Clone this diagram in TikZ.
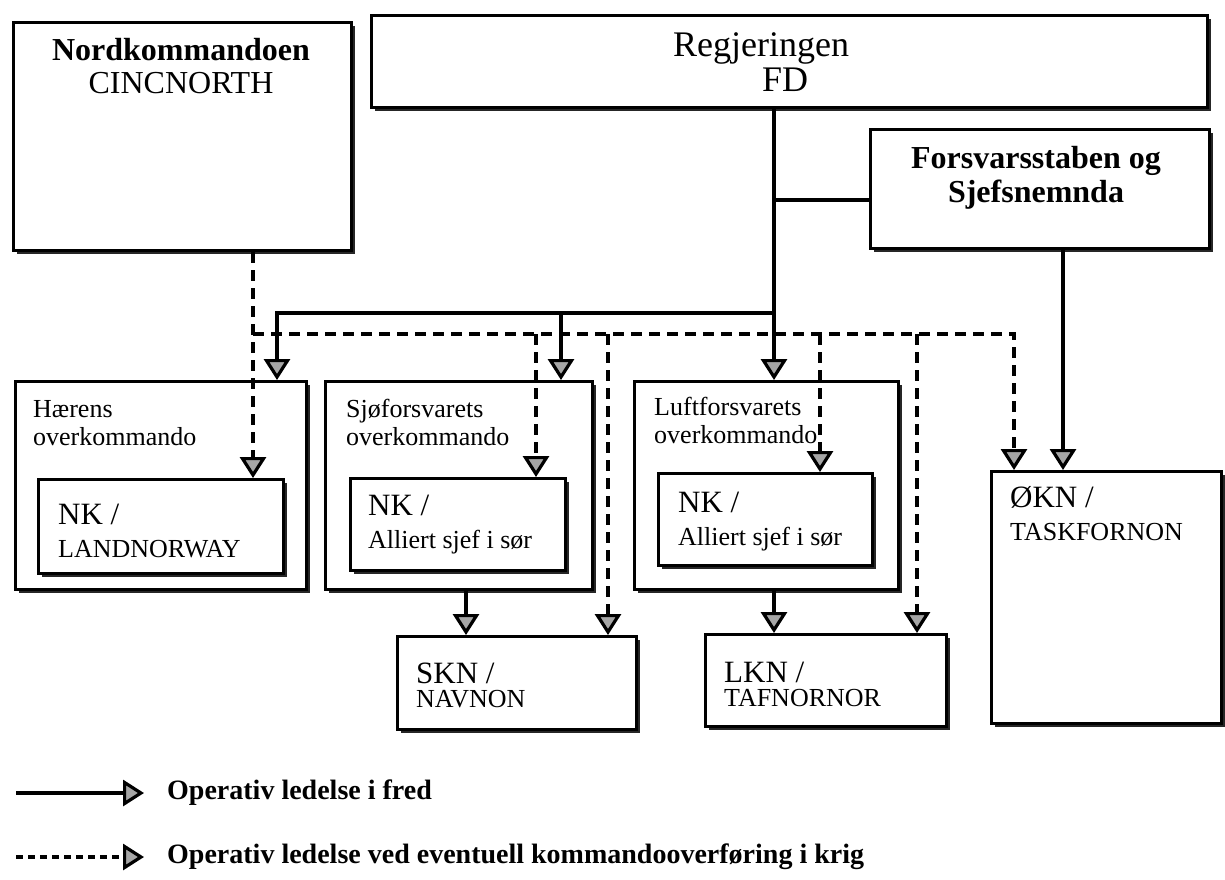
\documentclass[tikz,border=0pt]{standalone}
\usepackage{fontspec}
\setmainfont{Liberation Serif}
\usetikzlibrary{arrows.meta,shadows}

\begin{document}
\begin{tikzpicture}[x=1pt, y=-1pt,
    box/.style={draw, line width=3pt, fill=white, inner sep=0pt, anchor=north west,
        drop shadow={shadow xshift=3pt, shadow yshift=-3pt, fill=black, opacity=0.85}},
    txt/.style={anchor=base west, inner sep=0pt, font=\fontsize{26}{30}\selectfont},
    big/.style={anchor=base west, inner sep=0pt, font=\fontsize{31}{36}\selectfont},
    head/.style={anchor=base, inner sep=0pt, font=\fontsize{32}{38}\selectfont\bfseries},
    top/.style={anchor=base, inner sep=0pt, font=\fontsize{36}{40}\selectfont},
    note/.style={anchor=west, inner sep=0pt, font=\fontsize{28}{32}\selectfont\bfseries},
    peace/.style={line width=3.2pt, -{Triangle[width=26pt,length=21pt,fill=gray!70]}},
    war/.style={peace, dash pattern=on 11pt off 7pt},
]
\useasboundingbox (0,0) rectangle (1225,879);

% top level
\node[box, minimum width=338pt, minimum height=228pt] (nord) at (12,21) {};
\node[box, minimum width=836pt, minimum height=92pt] (reg) at (370,14) {};
\node[box, minimum width=339pt, minimum height=119pt] (fst) at (869,128) {};

\node[head] (nord1) at (181,60) {Nordkommandoen};
\node[top, font=\fontsize{32}{38}\selectfont] (nord2) at (181,93) {CINCNORTH};
\node[top] (reg1) at (761,56) {Regjeringen};
\node[top] (reg2) at (785,91) {FD};
\node[head] (fst1) at (1036,168) {Forsvarsstaben og};
\node[head] (fst2) at (1036,202) {Sjefsnemnda};

% overkommandoene
\node[box, minimum width=291pt, minimum height=208pt] (haer) at (14,380) {};
\node[box, minimum width=267pt, minimum height=208pt] (sjo) at (324,380) {};
\node[box, minimum width=264pt, minimum height=208pt] (luft) at (633,380) {};
\node[box, minimum width=230pt, minimum height=252pt] (okn) at (990,470) {};

\node[box, minimum width=245pt, minimum height=94pt] (nkl) at (37,478) {};
\node[box, minimum width=215pt, minimum height=92pt] (nks) at (349,477) {};
\node[box, minimum width=214pt, minimum height=92pt] (nkf) at (657,472) {};
\node[box, minimum width=239pt, minimum height=93pt] (skn) at (396,635) {};
\node[box, minimum width=241pt, minimum height=92pt] (lkn) at (704,633) {};

\node[txt] (haer1) at (33,417) {Hærens};
\node[txt] (haer2) at (33,445) {overkommando};
\node[txt] (sjo1) at (346,417) {Sjøforsvarets};
\node[txt] (sjo2) at (346,445) {overkommando};
\node[txt] (luft1) at (654,415) {Luftforsvarets};
\node[txt] (luft2) at (654,443) {overkommando};

\node[big] (nkl1) at (58,524) {NK /};
\node[txt] (nkl2) at (58,557) {LANDNORWAY};
\node[big] (nks1) at (368,515) {NK /};
\node[txt] (nks2) at (368,548) {Alliert sjef i sør};
\node[big] (nkf1) at (678,512) {NK /};
\node[txt] (nkf2) at (678,545) {Alliert sjef i sør};
\node[big] (skn1) at (416,683) {SKN /};
\node[txt] (skn2) at (416,707) {NAVNON};
\node[big] (lkn1) at (724,682) {LKN /};
\node[txt] (lkn2) at (724,706) {TAFNORNOR};
\node[big] (okn1) at (1010,507) {ØKN /};
\node[txt] (okn2) at (1010,540) {TASKFORNON};

% bus lines
\coordinate (sbus) at (774,313);
\coordinate (dbus) at (253,334);
\coordinate (xs1) at (277,0);
\coordinate (xs2) at (561,0);
\coordinate (xs3) at (466,0);
\coordinate (xs4) at (1063,0);
\coordinate (xd1) at (536,0);
\coordinate (xd2) at (608,0);
\coordinate (xd3) at (820,0);
\coordinate (xd4) at (917,0);
\coordinate (xd5) at (1014,0);

% fred
\draw[peace] (reg.south -| sbus) -- (sbus |- luft.north);
\draw[line width=3.2pt] (sbus |- fst.west) ++(0,11) -- ([yshift=-11pt]fst.west);
\draw[peace] (sbus) -- (sbus -| xs1) -- (xs1 |- haer.north);
\draw[peace] (sbus -| xs2) -- (xs2 |- sjo.north);
\draw[peace] (xs3 |- sjo.south) -- (xs3 |- skn.north);
\draw[peace] (sbus |- luft.south) -- (sbus |- lkn.north);
\draw[peace] (xs4 |- fst.south) -- (xs4 |- okn.north);

% krig
\draw[war] (dbus |- nord.south) -- (dbus |- nkl.north);
\draw[war] (dbus) -- (dbus -| xd5) -- (xd5 |- okn.north);
\draw[war] (dbus -| xd1) -- (xd1 |- nks.north);
\draw[war] (dbus -| xd2) -- (xd2 |- skn.north);
\draw[war] (dbus -| xd3) -- (xd3 |- nkf.north);
\draw[war] (dbus -| xd4) -- (xd4 |- lkn.north);

% legend
\node[note] (leg1) at (167,793) {Operativ ledelse i fred};
\node[note] (leg2) at (167,857) {Operativ ledelse ved eventuell kommandooverføring i krig};
\coordinate (lg1) at (16,793);
\coordinate (lg2) at (16,857);
\draw[peace] (lg1) -- ([xshift=-23pt]leg1.west);
\draw[war, dash pattern=on 7pt off 5pt] (lg2) -- ([xshift=-23pt]leg2.west);

\end{tikzpicture}
\end{document}
